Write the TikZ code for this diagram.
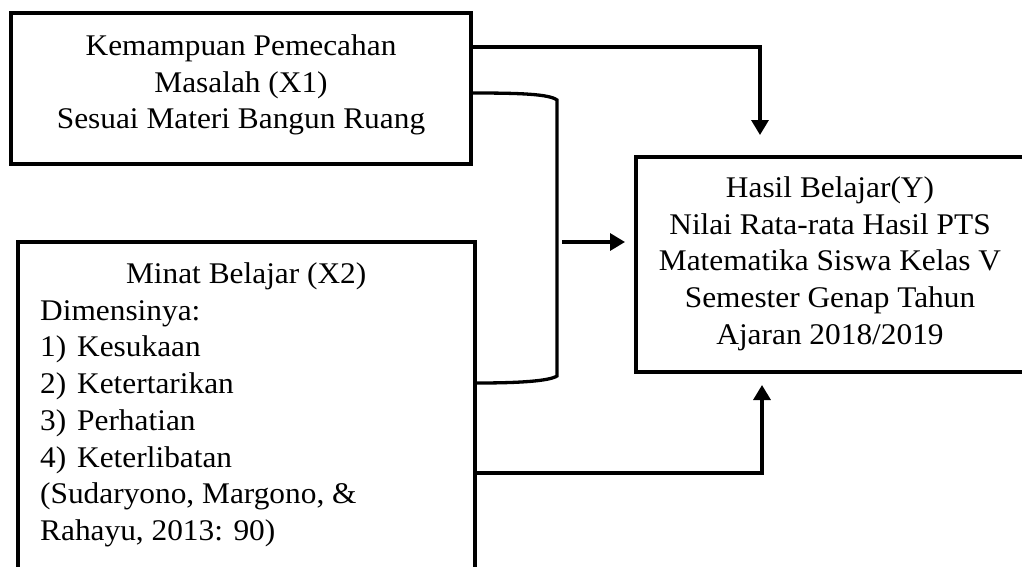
\documentclass[tikz,border=0pt]{standalone}
\usepackage{fontspec}
\setmainfont{Liberation Serif}[FakeStretch=1.045]
\usetikzlibrary{arrows.meta}
\begin{document}
\begin{tikzpicture}[x=1pt,y=-1pt,
  boxnode/.style={draw, line width=4pt, inner sep=0pt, rectangle},
  txt/.style={font=\fontsize{30}{36.7}\selectfont, inner sep=0pt},
  conn/.style={line width=3.3pt},
  arr/.style={conn, -{Triangle[width=17pt,length=15pt]}}]
\useasboundingbox (0,0) rectangle (1022,566);
\clip (0,0) rectangle (1022,566);
% boxes
\node[boxnode, minimum width=460pt, minimum height=151pt] (x1) at (241,88.5) {};
\node[boxnode, minimum width=389pt, minimum height=215pt] (y) at (830.5,264.5) {};
\node[boxnode, minimum width=457pt, minimum height=378pt] (x2) at (246.5,431) {};
% texts
\node[txt, align=center, anchor=north] (t1) at (241,34.5)
  {Kemampuan Pemecahan\\Masalah (X1)\\Sesuai Materi Bangun Ruang};
\node[txt, align=center, anchor=north] (ty) at (830,176.5)
  {Hasil Belajar(Y)\\Nilai Rata-rata Hasil PTS\\Matematika Siswa Kelas V\\Semester Genap Tahun\\Ajaran 2018/2019};
\node[txt, align=left, anchor=north west] (t2) at (40,262.5)
  {\makebox[412pt][c]{Minat Belajar (X2)}\\
   Dimensinya:\\
   \makebox[37pt][l]{1)}Kesukaan\\
   \makebox[37pt][l]{2)}Ketertarikan\\
   \makebox[37pt][l]{3)}Perhatian\\
   \makebox[37pt][l]{4)}Keterlibatan\\
   (Sudaryono, Margono, \&\\
   Rahayu, 2013: 90)};
% helper coordinates
\coordinate (a0) at (0,47);
\coordinate (a1) at (760,135);
\coordinate (c0) at (0,93);
\coordinate (c1) at (0,383);
\coordinate (m0) at (562,242);
\coordinate (b0) at (0,473);
\coordinate (b1) at (762,385);
% connectors
\draw[arr] (x1.east |- a0) -| (a1);
\draw[conn] (x1.east |- c0) .. controls (520,93) and (549,94) .. (557,100)
  -- (557,376) .. controls (549,381) and (520,383) .. (x2.east |- c1);
\draw[arr, shorten >=9pt] (m0) -- (y.west |- m0);
\draw[arr] (x2.east |- b0) -| (b1);
\end{tikzpicture}
\end{document}
